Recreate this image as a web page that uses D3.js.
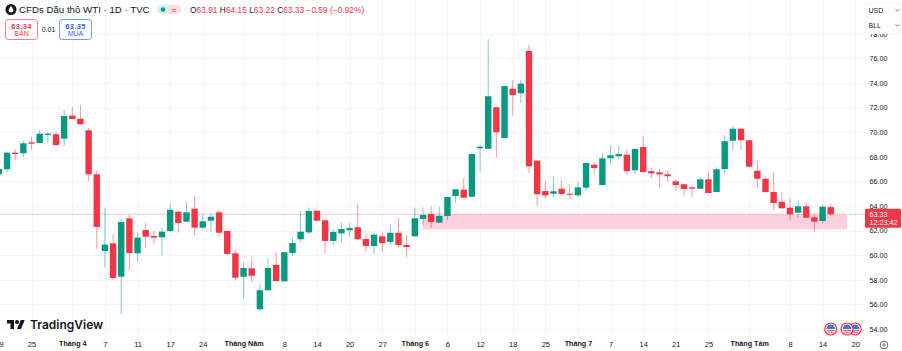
<!DOCTYPE html>
<html>
<head>
    <meta charset="utf-8">
    <script src="https://cdnjs.cloudflare.com/ajax/libs/d3/7.8.5/d3.min.js"></script>
</head>

<style>
    body { margin: 0; background: #fff; overflow: hidden; }
    svg { display: block; font-family: "Liberation Sans", sans-serif; }
    .axis text { fill: #131722; }
    .axis path, .axis line { display: none; }
</style>

<body>
<div id="chart"></div>

<script>

    // one entry per daily bar
    var open = [66.58, 66.99, 68.34, 68.29, 69.18, 69.13, 69.78, 69.84, 69.48, 71.35,
        71.10, 70.16, 66.58, 60.34, 60.97, 58.25, 63.00, 60.16, 62.05, 61.56,
        61.46, 61.97, 63.54, 62.73, 63.78, 62.24, 62.81, 63.49, 61.97, 60.16,
        58.25, 58.94, 55.60, 57.15, 59.21, 57.88, 60.18, 61.30, 61.86, 63.62,
        62.84, 61.16, 61.78, 62.03, 62.27, 61.32, 60.75, 61.54, 61.08, 61.83,
        60.83, 61.54, 62.95, 63.35, 62.65, 63.19, 64.82, 65.33, 64.76, 68.70,
        68.66, 72.03, 69.53, 73.54, 73.17, 76.61, 67.69, 65.22, 65.00, 65.41,
        65.00, 64.87, 65.49, 67.36, 65.71, 67.88, 68.05, 68.18, 66.91, 68.80,
        66.83, 66.74, 66.58, 66.01, 65.77, 65.52, 65.41, 66.17, 65.14, 67.01,
        69.31, 70.29, 69.35, 66.87, 66.22, 65.14, 64.35, 63.87, 63.46, 63.98,
        63.08, 62.78, 63.91];
    var high = [67.18, 68.40, 68.62, 69.29, 69.64, 70.18, 70.00, 70.02, 71.81, 72.08,
        72.22, 70.32, 66.85, 63.87, 61.70, 62.92, 63.27, 61.86, 62.65, 61.99,
        62.27, 64.17, 63.60, 64.35, 64.84, 63.27, 63.41, 63.68, 62.01, 60.43,
        59.47, 59.83, 57.66, 59.80, 60.26, 60.26, 61.43, 63.60, 63.87, 63.68,
        62.86, 62.13, 62.68, 62.60, 64.17, 61.73, 61.86, 61.86, 62.52, 63.03,
        61.67, 63.87, 63.87, 63.95, 63.95, 64.74, 65.36, 66.26, 68.29, 68.96,
        77.56, 72.08, 73.79, 74.25, 74.25, 77.10, 67.74, 66.04, 66.39, 66.12,
        65.79, 65.98, 67.52, 67.58, 68.29, 68.88, 68.88, 68.62, 68.66, 69.64,
        67.12, 67.01, 66.93, 66.17, 65.79, 65.71, 66.34, 66.74, 67.15, 69.75,
        70.51, 70.32, 69.37, 67.74, 66.39, 66.74, 65.09, 64.63, 64.47, 64.33,
        63.38, 64.08, 64.15];
    var low = [66.48, 66.71, 67.74, 68.01, 68.56, 69.10, 69.15, 68.91, 68.91, 71.05,
        70.59, 66.04, 60.51, 58.99, 57.99, 55.20, 58.80, 59.47, 60.61, 60.94,
        59.96, 61.91, 61.83, 62.70, 61.59, 62.05, 61.91, 61.51, 60.02, 57.99,
        56.44, 57.80, 55.49, 57.13, 57.88, 57.86, 59.96, 61.10, 61.70, 62.78,
        60.16, 60.83, 61.02, 61.51, 61.27, 60.29, 60.10, 60.26, 60.91, 60.64,
        59.83, 61.52, 62.46, 62.21, 62.60, 62.86, 64.27, 64.63, 64.74, 66.79,
        68.64, 67.93, 69.51, 71.35, 72.36, 66.66, 64.03, 64.63, 64.71, 64.84,
        64.60, 64.82, 65.25, 66.58, 65.63, 67.40, 67.80, 66.52, 66.58, 66.74,
        66.26, 65.51, 65.98, 65.25, 64.84, 64.76, 65.39, 65.04, 65.12, 66.58,
        68.50, 68.56, 67.15, 65.49, 65.09, 63.68, 63.76, 62.81, 63.05, 63.03,
        61.91, 62.60, 63.22];
    var close = [67.01, 68.34, 68.23, 69.10, 69.07, 69.88, 69.88, 68.96, 71.32, 71.08,
        70.65, 66.58, 62.30, 60.86, 58.15, 62.70, 60.18, 61.43, 61.51, 61.43,
        61.91, 63.70, 62.62, 63.49, 62.24, 62.76, 63.13, 61.83, 60.10, 58.17,
        58.96, 58.33, 57.15, 58.96, 57.90, 60.24, 60.99, 61.91, 63.60, 62.81,
        61.16, 61.89, 62.13, 62.21, 61.30, 60.75, 61.67, 60.99, 61.83, 60.83,
        60.67, 63.00, 63.27, 62.70, 63.19, 64.74, 65.36, 64.68, 68.23, 68.83,
        72.93, 70.00, 73.76, 73.03, 73.95, 67.23, 64.96, 64.87, 65.20, 64.98,
        64.96, 65.52, 67.50, 67.09, 67.88, 68.13, 68.23, 66.83, 68.64, 66.77,
        66.66, 66.58, 66.42, 65.71, 65.39, 65.41, 66.17, 65.06, 66.99, 69.27,
        70.29, 69.35, 67.20, 66.22, 65.14, 64.25, 63.82, 63.33, 63.98, 63.05,
        62.73, 63.95, 63.33];

    var tickBars = [0, 4, 9, 13, 17, 21, 25, 30, 35, 39, 43, 47, 51, 55, 59, 63, 67, 71, 75, 79, 83, 87, 92, 97, 101, 105];
    var tickLabels = ['19', '25', 'Tháng 4', '7', '11', '17', '24', 'Tháng Năm', '8', '14', '20', '27', 'Tháng 6',
        '6', '12', '18', '25', 'Tháng 7', '7', '14', '21', '25', 'Tháng Tám', '8', '14', '20'];
    var priceTicks = [54, 56, 58, 60, 62, 64, 66, 68, 70, 72, 74, 76, 78];

    var lastPrice = 63.33;
    var zoneTop = 63.31, zoneBottom = 62.10;
    var zoneFrom = 52, zoneTo = 104;
    var eventBars = [105, 104, 102];

    var width = 902;
    var height = 351;
    var paneRight = 866;
    var paneBottom = 336;

    var up = '#089981';
    var down = '#f23645';
    var bars = d3.range(open.length);

    var x = d3.scaleLinear().domain([0, 105]).range([-1.1, 855.2]);
    var y = d3.scaleLinear().domain([54, 78]).range([329, 33.9]);
    var bodyWidth = 6.4;

    var svg = d3.select('#chart').append('svg')
        .attr('width', width)
        .attr('height', height);

    // grid
    svg.append('g').selectAll('line')
        .data(tickBars)
        .enter().append('line')
        .attr('x1', function(d) { return Math.round(x(d)) + 0.5; })
        .attr('x2', function(d) { return Math.round(x(d)) + 0.5; })
        .attr('y1', 0)
        .attr('y2', paneBottom)
        .attr('stroke', '#f3f4f6');

    svg.append('g').selectAll('line')
        .data(priceTicks)
        .enter().append('line')
        .attr('x1', 0)
        .attr('x2', paneRight)
        .attr('y1', function(d) { return Math.round(y(d)) + 0.5; })
        .attr('y2', function(d) { return Math.round(y(d)) + 0.5; })
        .attr('stroke', '#f3f4f6');

    // pink zone and last price line
    svg.append('rect')
        .attr('x', x(zoneFrom))
        .attr('y', y(zoneTop))
        .attr('width', x(zoneTo) - x(zoneFrom))
        .attr('height', y(zoneBottom) - y(zoneTop))
        .attr('fill', '#fbd0de');

    svg.append('line')
        .attr('x1', 0)
        .attr('x2', paneRight)
        .attr('y1', y(lastPrice))
        .attr('y2', y(lastPrice))
        .attr('stroke', '#f23645')
        .attr('stroke-opacity', 0.3);

    // candles
    var candle = svg.append('g').selectAll('g')
        .data(bars)
        .enter().append('g')
        .attr('fill', function(i) { return close[i] >= open[i] ? up : down; })
        .attr('stroke', function(i) { return close[i] >= open[i] ? up : down; });

    candle.append('line')
        .attr('x1', function(i) { return x(i); })
        .attr('x2', function(i) { return x(i); })
        .attr('y1', function(i) { return y(high[i]); })
        .attr('y2', function(i) { return y(low[i]); })
        .attr('stroke-opacity', 0.5);

    candle.append('rect')
        .attr('x', function(i) { return x(i) - bodyWidth / 2; })
        .attr('width', bodyWidth)
        .attr('y', function(i) { return y(Math.max(open[i], close[i])); })
        .attr('height', function(i) { return Math.max(1, Math.abs(y(open[i]) - y(close[i]))); })
        .attr('stroke', 'none');

    // axes
    var xAxis = d3.axisBottom(x)
        .tickValues(tickBars)
        .tickSize(0)
        .tickFormat(function(d, i) { return tickLabels[i]; });

    var gx = svg.append('g')
        .attr('class', 'axis')
        .attr('transform', 'translate(0, 342)')
        .call(xAxis);

    gx.selectAll('text')
        .attr('y', 0)
        .attr('dy', '0.6em')
        .attr('font-size', function(d, i) { return tickLabels[i].indexOf('Tháng') === 0 ? 7.2 : 7.5; })
        .attr('font-family', '"Liberation Sans", sans-serif')
        .attr('font-weight', function(d, i) { return tickLabels[i].indexOf('Tháng') === 0 ? 700 : 400; });

    var yAxis = d3.axisRight(y)
        .tickValues(priceTicks)
        .tickSize(0)
        .tickFormat(d3.format('.2f'));

    svg.append('g')
        .attr('class', 'axis')
        .attr('transform', 'translate(869.5, 0)')
        .call(yAxis)
        .selectAll('text')
        .attr('x', 0)
        .attr('font-size', 7.2)
        .attr('font-family', '"Liberation Sans", sans-serif');

    // last price tag
    svg.append('rect')
        .attr('x', 865).attr('y', y(lastPrice) - 5.5)
        .attr('width', 36).attr('height', 19)
        .attr('rx', 1.5)
        .attr('fill', down);
    svg.append('text')
        .attr('x', 869.5).attr('y', y(lastPrice) + 3)
        .attr('font-size', 7.2).attr('fill', '#fff')
        .text(d3.format('.2f')(lastPrice));
    svg.append('text')
        .attr('x', 869.5).attr('y', y(lastPrice) + 11)
        .attr('font-size', 7.2).attr('fill', '#fff')
        .text('12:23:42');

    // USD / BLL selector
    svg.append('rect')
        .attr('x', 866).attr('y', 3)
        .attr('width', 35).attr('height', 30.5)
        .attr('rx', 2)
        .attr('fill', '#fff')
        .attr('stroke', '#f2f2f2');
    [['USD', 13], ['BLL', 28]].forEach(function(row) {
        svg.append('text')
            .attr('x', 868.5).attr('y', row[1])
            .attr('font-size', 7).attr('fill', '#131722')
            .text(row[0]);
        svg.append('path')
            .attr('d', 'M895.5,' + (row[1] - 3.5) + 'l2,1.5l2,-1.5')
            .attr('fill', 'none').attr('stroke', '#555').attr('stroke-width', 0.8);
    });

    // header
    svg.append('circle').attr('cx', 11).attr('cy', 9.5).attr('r', 5.5).attr('fill', '#131722');
    svg.append('path').attr('d', 'M11,6 C12.5,8 13.3,9.2 13.3,10.3 A2.3,2.3 0 0 1 8.7,10.3 C8.7,9.2 9.5,8 11,6Z').attr('fill', '#fff');
    svg.append('text')
        .attr('x', 19).attr('y', 13)
        .attr('font-size', 9.7).attr('fill', '#131722')
        .text('CFDs Dầu thô WTI · 1D · TVC');

    svg.append('path').attr('d', 'M169,4.5h-7a5,5 0 0 0 0,10h7z').attr('fill', '#d9f1ec');
    svg.append('path').attr('d', 'M169,4.5h7a5,5 0 0 1 0,10h-7z').attr('fill', '#fcdde0');
    svg.append('circle').attr('cx', 163).attr('cy', 9.5).attr('r', 2.3).attr('fill', up);
    svg.append('text').attr('x', 174).attr('y', 12.5).attr('font-size', 8).attr('text-anchor', 'middle')
        .attr('fill', down).text('≈');

    var quote = svg.append('text').attr('x', 190).attr('y', 12.5).attr('font-size', 8.4);
    [['O', '#131722'], [d3.format('.2f')(open[102]) + ' ', down],
     ['H', '#131722'], [d3.format('.2f')(high[102]) + ' ', down],
     ['L', '#131722'], [d3.format('.2f')(low[102]) + ' ', down],
     ['C', '#131722'], [d3.format('.2f')(close[102]) + ' −0.59 (−0.92%)', down]].forEach(function(p) {
        quote.append('tspan').attr('fill', p[1]).attr('xml:space', 'preserve').text(p[0]);
    });

    // sell / buy boxes
    function priceBox(bx, color, value, label) {
        svg.append('rect')
            .attr('x', bx + 0.5).attr('y', 19.5)
            .attr('width', 32).attr('height', 20)
            .attr('rx', 3)
            .attr('fill', '#fff')
            .attr('stroke', color)
            .attr('stroke-opacity', 0.65);
        svg.append('text').attr('x', bx + 16.5).attr('y', 28.5).attr('text-anchor', 'middle')
            .attr('font-size', 7.5).attr('font-weight', 700).attr('letter-spacing', 0.3).attr('fill', color).text(value);
        svg.append('text').attr('x', bx + 16.5).attr('y', 36).attr('text-anchor', 'middle')
            .attr('font-size', 7).attr('fill', color).text(label);
    }
    priceBox(5, down, '63.34', 'BÁN');
    priceBox(59, '#2962ff', '63.35', 'MUA');
    svg.append('text').attr('x', 48.5).attr('y', 32).attr('text-anchor', 'middle')
        .attr('font-size', 7).attr('fill', '#131722').text('0.01');

    // logo
    var logo = svg.append('g').attr('transform', 'translate(7, 318) scale(0.5)').attr('fill', '#131722');
    logo.append('path').attr('d', 'M14 22H7V11H0V4h14v18ZM28 22h-8l7.5-18h8L28 22Z');
    logo.append('circle').attr('cx', 20).attr('cy', 8).attr('r', 4);
    svg.append('text')
        .attr('x', 30).attr('y', 329)
        .attr('font-family', 'Inter, sans-serif')
        .attr('font-size', 12).attr('font-weight', 600).attr('fill', '#131722')
        .text('TradingView');

    // economic event flags
    var flag = svg.append('g').selectAll('g')
        .data(eventBars)
        .enter().append('g')
        .attr('transform', function(d) { return 'translate(' + x(d) + ',' + y(54) + ')'; });
    flag.append('circle').attr('r', 6).attr('fill', '#fff').attr('stroke', down).attr('stroke-width', 1.2);
    flag.append('path').attr('d', 'M-4.4,0A4.4,4.4 0 0 1 4.4,0Z').attr('fill', '#3b78d8');
    flag.append('path').attr('d', 'M-4,1.6H4M-2.8,3.3H2.8').attr('stroke', down).attr('stroke-width', 0.9);

    // time axis settings icon
    svg.append('circle').attr('cx', 884).attr('cy', 345).attr('r', 3.8).attr('fill', 'none').attr('stroke', '#444').attr('stroke-width', 0.8);
    svg.append('circle').attr('cx', 884).attr('cy', 345).attr('r', 1.2).attr('fill', 'none').attr('stroke', '#444').attr('stroke-width', 0.7);

</script>
</body>
</html>
